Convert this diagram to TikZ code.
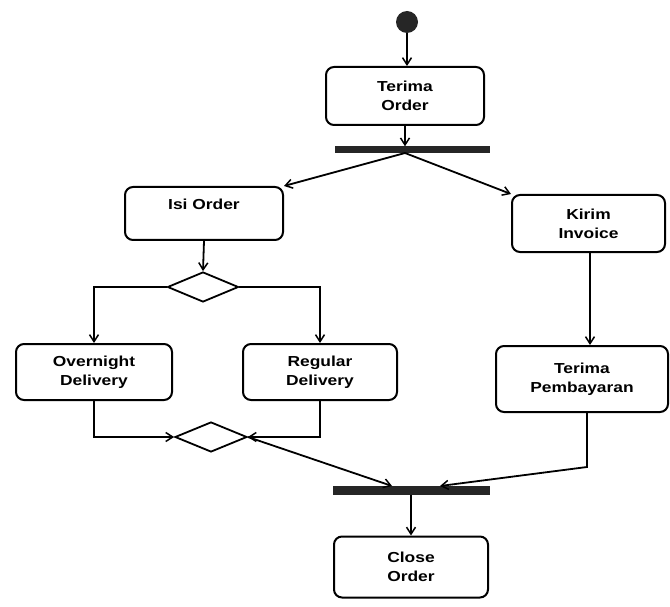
\documentclass[tikz,border=0pt]{standalone}
\usepackage{fontspec}
\setmainfont{Liberation Sans}[FakeStretch=1.2]
\usetikzlibrary{arrows.meta,shapes.geometric}
\begin{document}
\begin{tikzpicture}[x=1pt,y=-1pt,
  act/.style={draw,line width=2pt,rounded corners=8pt,fill=white,align=center,
    inner sep=0pt,font=\fontsize{14.5}{19}\selectfont\bfseries},
  bar/.style={fill=black!85,draw=none,inner sep=0pt},
  dec/.style={draw,diamond,line width=1.8pt,aspect=2.4,inner sep=0pt,fill=white},
  flow/.style={line width=1.8pt,-{Straight Barb[length=7pt,width=9pt,line width=1.5pt]}},
  plain/.style={line width=1.8pt}]
\useasboundingbox (0,0) rectangle (670,607);
\node[circle,fill=black!85,minimum size=22pt,inner sep=0pt] (init) at (407,22) {};
\node[act,minimum width=158pt,minimum height=58pt] (TO) at (405,96) {Terima\\Order};
\node[bar,minimum width=155pt,minimum height=7pt] (fork) at (412,150) {};
\node[act,minimum width=158pt,minimum height=53pt] (IO) at (204,213.5) {Isi Order\\\mbox{}};
\node[act,minimum width=153pt,minimum height=57pt] (KI) at (588.5,223.5) {Kirim\\Invoice};
\node[dec,minimum width=71pt,minimum height=30pt] (D1) at (203,287) {};
\node[act,minimum width=156pt,minimum height=56pt] (OD) at (94,372) {Overnight\\Delivery};
\node[act,minimum width=154pt,minimum height=56pt] (RD) at (320,372) {Regular\\Delivery};
\node[act,minimum width=172pt,minimum height=66pt] (TP) at (582,379) {Terima\\Pembayaran};
\node[dec,minimum width=72pt,minimum height=30pt] (D2) at (211,437) {};
\node[bar,minimum width=157pt,minimum height=9pt] (join) at (411,490) {};
\node[act,minimum width=154pt,minimum height=61pt] (CO) at (411,567) {Close\\Order};
\coordinate (fk) at (405,153);
\coordinate (j1) at (392,486);
\coordinate (j2) at (440,486);
\coordinate (tpb) at (587,467);
\draw[flow] (init) -- (init.south |- TO.north);
\draw[flow] (TO.south) -- (TO.south |- fork.north);
\draw[flow] (fk) -- (IO.north east);
\draw[flow] (fk) -- (KI.north west);
\draw[flow] (IO.south) -- (D1.north);
\draw[flow] (D1.west) -| (OD.north);
\draw[flow] (D1.east) -| (RD.north);
\draw[flow] (OD.south) |- (D2.west);
\draw[flow] (RD.south) |- (D2.east);
\draw[flow] (D2.east) -- (j1);
\draw[flow] (KI.south -| 590,0) -- (TP.north -| 590,0);
\draw[flow] (TP.south -| tpb) -- (tpb) -- (j2);
\draw[flow] (join.south) -- (CO.north);
\end{tikzpicture}
\end{document}
